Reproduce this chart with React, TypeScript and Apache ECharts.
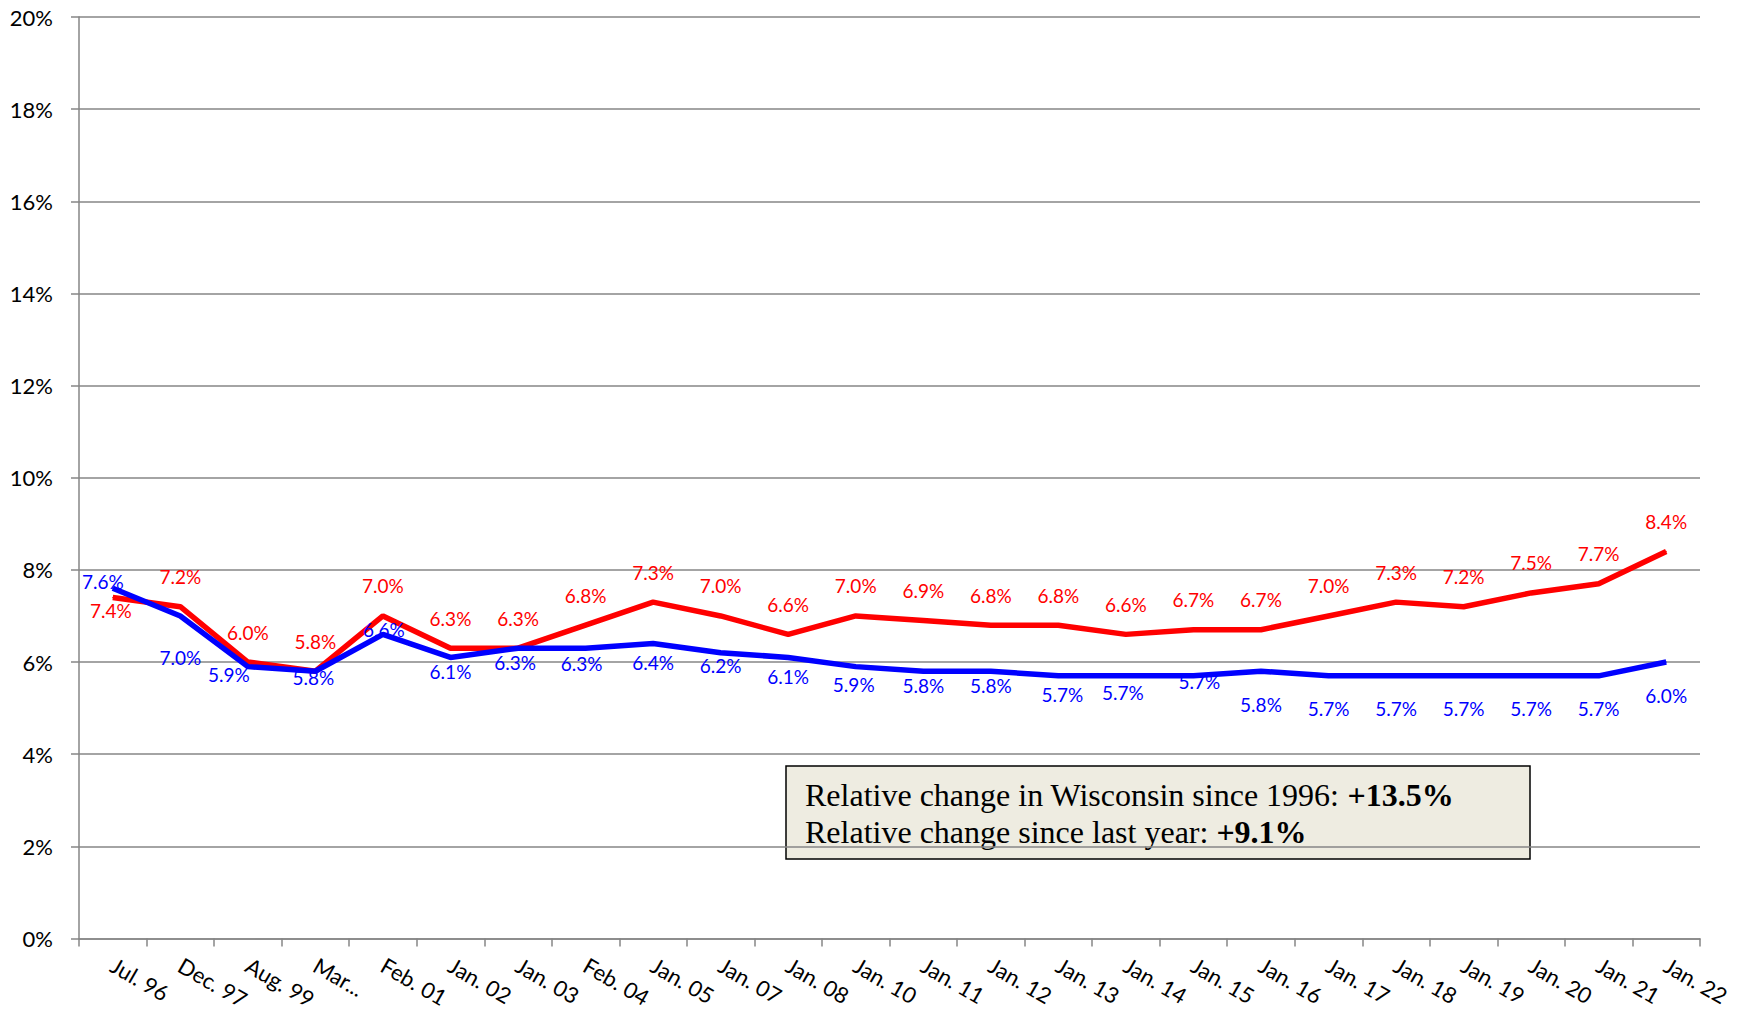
import React, { useEffect, useRef } from "react";
import * as echarts from "echarts";

const categories = [
  "Jul. 96", "Dec. 97", "Aug. 99", "Mar...", "Feb. 01", "Jan. 02", "Jan. 03", "Feb. 04",
  "Jan. 05", "Jan. 07", "Jan. 08", "Jan. 10", "Jan. 11", "Jan. 12", "Jan. 13", "Jan. 14",
  "Jan. 15", "Jan. 16", "Jan. 17", "Jan. 18", "Jan. 19", "Jan. 20", "Jan. 21", "Jan. 22",
];

const wisconsinValues = [
  7.4, 7.2, 6.0, 5.8, 7.0, 6.3, 6.3, 6.8, 7.3, 7.0, 6.6, 7.0,
  6.9, 6.8, 6.8, 6.6, 6.7, 6.7, 7.0, 7.3, 7.2, 7.5, 7.7, 8.4,
];

const nationalValues = [
  7.6, 7.0, 5.9, 5.8, 6.6, 6.1, 6.3, 6.3, 6.4, 6.2, 6.1, 5.9,
  5.8, 5.8, 5.7, 5.7, 5.7, 5.8, 5.7, 5.7, 5.7, 5.7, 5.7, 6.0,
];

const yMin = 0;
const yMax = 20;
const yInterval = 2;

const boxLine1 = "Relative change in Wisconsin since 1996: ";
const boxValue1 = "+13.5%";
const boxLine2 = "Relative change since last year: ";
const boxValue2 = "+9.1%";

// label nudges (style only), [dx, dy] in px relative to the point
const redLabelNudge: [number, number][] = wisconsinValues.map((_, i) =>
  i === 0 ? [-2, 13] : [0, -30]
);
const blueLabelNudge: [number, number][] = [
  [-10, -7], [0, 42], [-19, 8], [-2, 6], [1, -5], [0, 14], [-3, 14], [-4, 15],
  [0, 19], [0, 13], [0, 19], [-2, 18], [0, 14], [0, 14], [4, 19], [-3, 17],
  [6, 6], [0, 33], [0, 33], [0, 33], [0, 33], [0, 33], [0, 33], [0, 33],
];

const RED = "#FF0000";
const BLUE = "#0000FF";
const GRID_GRAY = "#868686";
const FONT = "Lato";

export default function App() {
  const ref = useRef<HTMLDivElement>(null);

  useEffect(() => {
    if (!ref.current) return;
    const chart = echarts.init(ref.current, null, { renderer: "svg" });

    const makeLabel = (color: string) => ({
      show: true,
      position: "inside",
      color,
      fontFamily: FONT,
      fontSize: 19,
      formatter: (p: any) => Number(p.value).toFixed(1) + "%",
    });

    chart.setOption({
      animation: false,
      backgroundColor: "#FFFFFF",
      grid: { left: 79, right: 45, top: 17, bottom: 69, containLabel: false },
      xAxis: {
        type: "category",
        data: categories,
        boundaryGap: true,
        axisLine: { show: true, lineStyle: { color: GRID_GRAY, width: 1.5 } },
        axisTick: { show: true, alignWithLabel: false, length: 8, lineStyle: { color: GRID_GRAY, width: 1.5 } },
        axisLabel: {
          interval: 0,
          rotate: -30,
          margin: 25,
          color: "#000",
          fontFamily: FONT,
          fontSize: 22,
        },
        splitLine: { show: false },
      },
      yAxis: {
        type: "value",
        min: yMin,
        max: yMax,
        interval: yInterval,
        axisLine: { show: true, lineStyle: { color: GRID_GRAY, width: 1.5 } },
        axisTick: { show: true, length: 8, lineStyle: { color: GRID_GRAY, width: 1.5 } },
        axisLabel: {
          formatter: "{value}%",
          margin: 26,
          color: "#000",
          fontFamily: FONT,
          fontSize: 22,
        },
        splitLine: { show: true, lineStyle: { color: GRID_GRAY, width: 1.5 } },
      },
      series: [
        {
          name: "Wisconsin",
          type: "line",
          data: wisconsinValues.map((v, i) => ({ value: v, label: { offset: redLabelNudge[i] } })),
          lineStyle: { color: RED, width: 5.5 },
          itemStyle: { color: RED },
          symbol: "circle",
          symbolSize: 1,
          showSymbol: true,
          label: makeLabel(RED),
          z: 2,
        },
        {
          name: "United States",
          type: "line",
          data: nationalValues.map((v, i) => ({ value: v, label: { offset: blueLabelNudge[i] } })),
          lineStyle: { color: BLUE, width: 5.5 },
          itemStyle: { color: BLUE },
          symbol: "circle",
          symbolSize: 1,
          showSymbol: true,
          label: makeLabel(BLUE),
          z: 3,
        },
      ],
      graphic: [
        {
          type: "group",
          x: 786,
          y: 766,
          z: 100,
          children: [
            {
              type: "rect",
              shape: { x: 0, y: 0, width: 744, height: 93 },
              style: { fill: "#EEECE1", stroke: "#000000", lineWidth: 1.5 },
            },
            {
              type: "text",
              x: 19,
              y: 47,
              style: {
                text:
                  "{n|" + boxLine1 + "}{b|" + boxValue1 + "}\n{n|" + boxLine2 + "}{b|" + boxValue2 + "}",
                verticalAlign: "middle",
                align: "left",
                rich: {
                  n: { fontFamily: "Liberation Serif", fontSize: 32, lineHeight: 37, fill: "#000" },
                  b: { fontFamily: "Liberation Serif", fontSize: 32, fontWeight: "bold", lineHeight: 37, fill: "#000" },
                },
              },
            },
          ],
        },
      ],
    });

    return () => chart.dispose();
  }, []);

  return (
    <div
      ref={ref}
      style={{ position: "fixed", left: 0, top: 0, width: 1745, height: 1012, background: "#fff" }}
    />
  );
}
